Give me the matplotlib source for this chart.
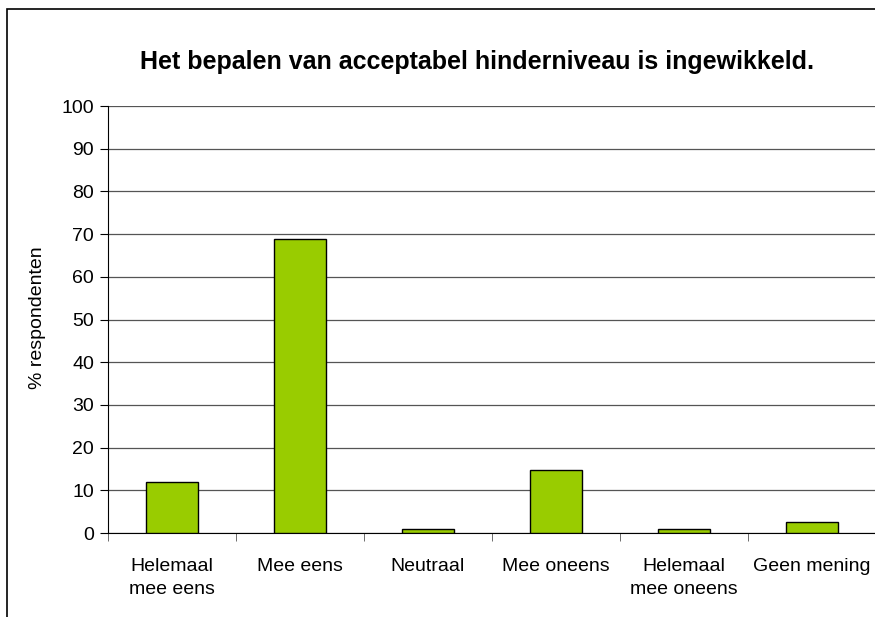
import matplotlib
matplotlib.use("Agg")
import matplotlib.pyplot as plt
from matplotlib.patches import Rectangle
import numpy as np

plt.rcParams['font.family'] = ['Liberation Sans', 'DejaVu Sans']

categories = ["Helemaal\nmee eens", "Mee eens", "Neutraal", "Mee oneens",
              "Helemaal\nmee oneens", "Geen mening"]
values = [12.0, 68.9, 1.0, 14.7, 1.0, 2.6]
yticks = [0, 10, 20, 30, 40, 50, 60, 70, 80, 90, 100]
title = "Het bepalen van acceptabel hinderniveau is ingewikkeld."
ylabel = "% respondenten"

W, H = 875, 617
fig = plt.figure(figsize=(W / 100, H / 100), dpi=100)
ax = fig.add_axes([108 / W, 84 / H, 768 / W, 427 / H])

x = np.arange(len(categories))
ax.bar(x, values, width=0.4, color="#99CC00", edgecolor="black", linewidth=1.0, zorder=3)

ax.set_xlim(-0.5, len(categories) - 0.5)
ax.set_ylim(0, 100)
ax.set_yticks(yticks)
ax.yaxis.grid(True, color="#555555", linewidth=0.9, zorder=0)
ax.set_xticks(x)
ax.set_xticklabels(categories, fontsize=14, linespacing=1.5)
ax.set_xticks(np.arange(len(categories) + 1) - 0.5, minor=True)
ax.tick_params(axis='x', which='major', length=0, pad=18)
ax.tick_params(axis='x', which='minor', length=6, direction='out', color='#555555')
ax.tick_params(axis='y', length=6, direction='out', labelsize=14, pad=4)

for s in ['top', 'right']:
    ax.spines[s].set_visible(False)
ax.spines['left'].set_color('black')
ax.spines['bottom'].set_color('black')

fig.text(477 / W, 1 - 62 / H, title, ha='center', va='center', fontsize=18, fontweight='bold')
fig.text(38 / W, 1 - 318 / H, ylabel, rotation=90, ha='center', va='center', fontsize=14)

fig.patches.append(Rectangle((6.5 / W, -0.1), 1.2, 1.1 - 9 / H + 0.0,
                             transform=fig.transFigure, fill=False,
                             edgecolor='black', linewidth=1.2))

fig.savefig("out.png", dpi=100)
